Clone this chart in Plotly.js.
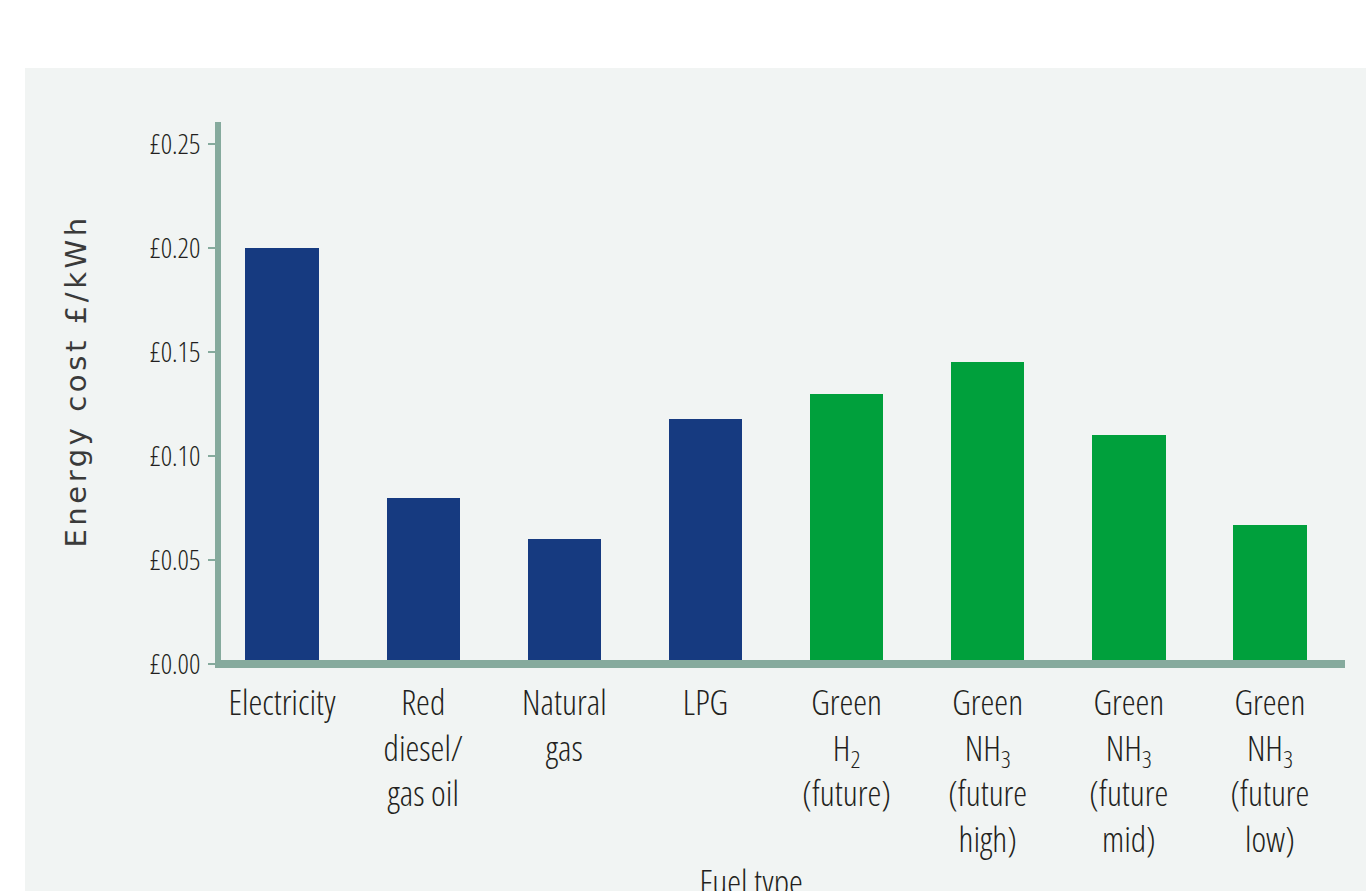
<!DOCTYPE html>
<html>
<head>
<meta charset="utf-8">
<script src="https://cdn.plot.ly/plotly-3.0.1.min.js"></script>
<style>
  html, body { margin: 0; padding: 0; background: #ffffff; overflow: hidden; }
  #chart { position: absolute; left: 25px; top: 68px; width: 1341px; height: 823px; }
  #chart .xtick text, #chart .ytick text, #chart .fuel-title text { font-stretch: 75% !important; }
  #chart .cost-title text { letter-spacing: 3.6px; }
</style>
</head>
<body>
<div id="chart"></div>
<script>
// Fuel categories (tick labels) and their energy cost in £ per kWh
const fuels = [
  'Electricity',
  'Red<br>diesel/<br>gas oil',
  'Natural<br>gas',
  'LPG',
  'Green<br>H<sub>2</sub><br>(future)',
  'Green<br>NH<sub>3</sub><br>(future<br>high)',
  'Green<br>NH<sub>3</sub><br>(future<br>mid)',
  'Green<br>NH<sub>3</sub><br>(future<br>low)'
];
const costPerKWh = [0.20, 0.08, 0.06, 0.118, 0.13, 0.145, 0.11, 0.067];
const fuelGroup = ['current', 'current', 'current', 'current', 'green', 'green', 'green', 'green'];
const yTickVals = [0, 0.05, 0.10, 0.15, 0.20, 0.25];
const yTickText = ['£0.00', '£0.05', '£0.10', '£0.15', '£0.20', '£0.25'];

const groupColour = { current: '#163a80', green: '#00a03c' };
const axisColour = '#86aa9d';
const condensedFont = 'Open Sans, Liberation Sans Narrow, sans-serif';

const trace = {
  type: 'bar',
  x: fuels,
  y: costPerKWh,
  width: 0.52,
  marker: { color: fuelGroup.map(g => groupColour[g]), line: { width: 0 } },
  hoverinfo: 'skip'
};

const layout = {
  width: 1341,
  height: 823,
  margin: { l: 196, r: 21, t: 54, b: 223 },
  paper_bgcolor: '#f1f4f3',
  plot_bgcolor: 'rgba(0,0,0,0)',
  showlegend: false,
  bargap: 0,
  xaxis: {
    type: 'category',
    range: [-0.433, 7.532],
    showline: false,
    zeroline: false,
    showgrid: false,
    ticks: '',
    ticklabelstandoff: 11,
    tickfont: { family: condensedFont, size: 35, color: '#231f20', weight: 350 },
    fixedrange: true
  },
  yaxis: {
    range: [-0.00192, 0.2606],
    tickvals: yTickVals,
    ticktext: yTickText,
    showline: true,
    linewidth: 6,
    linecolor: axisColour,
    zeroline: false,
    showgrid: false,
    ticks: 'outside',
    ticklen: 7,
    tickwidth: 2,
    tickcolor: axisColour,
    ticklabelstandoff: 2,
    tickfont: { family: condensedFont, size: 28, color: '#231f20', weight: 350 },
    fixedrange: true
  },
  shapes: [
    {
      type: 'line', layer: 'above',
      xref: 'paper', x0: 0, x1: 1,
      yref: 'y', y0: 0, y1: 0,
      line: { color: axisColour, width: 8 }
    }
  ],
  annotations: [
    {
      text: 'Energy cost £/kWh',
      xref: 'paper', yref: 'paper',
      x: -0.129, y: 0.5256,
      xanchor: 'center', yanchor: 'middle',
      textangle: -90,
      showarrow: false,
      font: { family: 'DejaVu Sans, sans-serif', size: 29, color: '#3a3a3a' }
    },
    {
      text: 'Fuel type',
      xref: 'paper', yref: 'paper',
      x: 0.4715, y: -0.345,
      xanchor: 'center', yanchor: 'top',
      showarrow: false,
      font: { family: condensedFont, size: 35, color: '#231f20', weight: 350 }
    }
  ]
};

Plotly.newPlot('chart', [trace], layout, { displayModeBar: false, staticPlot: true }).then(gd => {
  // tag the two annotation groups so the stylesheet can reach them
  const anns = gd.querySelectorAll('.annotation');
  if (anns[0]) anns[0].classList.add('cost-title');
  if (anns[1]) anns[1].classList.add('fuel-title');
});
</script>
</body>
</html>
